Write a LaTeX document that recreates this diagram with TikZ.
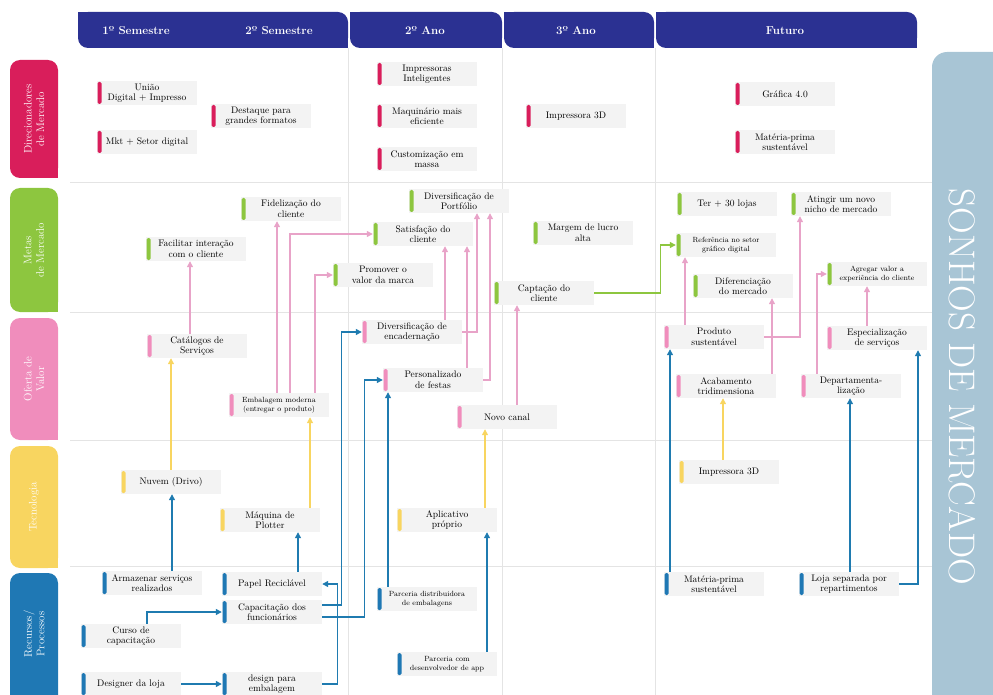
\documentclass[tikz,border=0pt]{standalone}
\usepackage{fontspec}
\usetikzlibrary{arrows.meta}

\definecolor{navyband}{HTML}{2B3192}
\definecolor{drvred}{HTML}{D91E5B}
\definecolor{metgreen}{HTML}{8DC63F}
\definecolor{ofpink}{HTML}{F08DBC}
\definecolor{tecyellow}{HTML}{F8D560}
\definecolor{recblue}{HTML}{1F78B4}
\definecolor{dreampanel}{HTML}{A8C5D5}
\definecolor{cardgray}{HTML}{F3F3F3}
\definecolor{gridgray}{HTML}{E4E4E4}
\definecolor{pinkln}{HTML}{E8A3C8}
\definecolor{blueln}{HTML}{1F7BB0}

\begin{document}
\begin{tikzpicture}[x=1pt, y=-1pt,
  card/.style={fill=cardgray, minimum width=100pt, minimum height=24pt,
    inner sep=1pt, align=center, font=\fontsize{9.5}{10.5}\selectfont,
    path picture={\fill[#1, rounded corners=1.5pt]
      ([xshift=0.5pt, yshift=-1pt]path picture bounding box.north west) rectangle
      ([xshift=4.5pt, yshift=1pt]path picture bounding box.south west);}},
  smallcard/.style={card=#1, font=\fontsize{7.5}{9}\selectfont},
  tablabel/.style={rotate=90, text=white, align=center, font=\fontsize{11}{12.5}\selectfont},
  headlabel/.style={text=white, font=\fontsize{11.5}{13}\selectfont\bfseries},
  gridline/.style={draw=gridgray, line width=0.8pt},
  wire/.style={line width=1.3pt, -{Triangle[length=6pt, width=6pt]}},
  pinkarrow/.style={wire, draw=pinkln},
  greenarrow/.style={wire, draw=metgreen},
  yellowarrow/.style={wire, draw=tecyellow},
  bluearrow/.style={wire, draw=blueln}]

  \useasboundingbox (0,0) rectangle (993,695);
  \clip (0,0) rectangle (993,695);

  % ---- grid ----
  \foreach \x in {348, 502, 655} {
    \draw[gridline] (\x,48) -- (\x,695);
  }
  \foreach \y in {182, 312, 440, 566} {
    \draw[gridline] (70,\y) -- (932,\y);
  }

  % ---- header tabs ----
  \foreach \xa/\xb in {78/348, 350/502, 504/654, 656/917} {
    \fill[navyband, rounded corners=10pt] (\xa,12) rectangle (\xb,48);
    \fill[navyband] (\xa,12) rectangle (\xa+12,24);
    \fill[navyband] (\xb-12,36) rectangle (\xb,48);
  }
  \node[headlabel] (h1) at (136,31) {1º Semestre};
  \node[headlabel] (h2) at (279,31) {2º Semestre};
  \node[headlabel] (h3) at (425,31) {2º Ano};
  \node[headlabel] (h4) at (576,31) {3º Ano};
  \node[headlabel] (h5) at (785,31) {Futuro};

  % ---- row tabs ----
  \foreach \ya/\yb/\col in {60/178/drvred, 188/312/metgreen, 318/440/ofpink,
                            446/568/tecyellow, 573/710/recblue} {
    \fill[\col, rounded corners=10pt] (10,\ya) rectangle (58,\yb);
    \fill[\col] (46,\yb-12) rectangle (58,\yb);
  }
  \node[tablabel] (l1) at (34,119) {Direcionadores\\de Mercado};
  \node[tablabel] (l2) at (34,250) {Metas\\de Mercado};
  \node[tablabel] (l3) at (34,379) {Oferta de\\Valor};
  \node[tablabel] (l4) at (34,507) {Tecnologia};
  \node[tablabel] (l5) at (34,634) {Recursos/\\Processos};

  % ---- right panel ----
  \fill[dreampanel, rounded corners=15pt] (932,52) rectangle (1010,710);
  \node[rotate=-90, text=white, font=\fontsize{37}{42}\selectfont] (dream) at (962,387) {SONHOS DE MERCADO};

  % ---- direcionadores de mercado ----
  \node[card=drvred] (uniao) at (147,93) {União\\Digital + Impresso};
  \node[card=drvred] (destaque) at (261,116) {Destaque para\\grandes formatos};
  \node[card=drvred] (mkt) at (147,142) {Mkt + Setor digital};
  \node[card=drvred] (impint) at (427,74) {Impressoras\\Inteligentes};
  \node[card=drvred] (maquin) at (427,116) {Maquinário mais\\eficiente};
  \node[card=drvred] (custom) at (427,159) {Customização em\\massa};
  \node[card=drvred] (imp3d) at (576,116) {Impressora 3D};
  \node[card=drvred] (grafica) at (785,94) {Gráfica 4.0};
  \node[card=drvred] (materia) at (785,142) {Matéria-prima\\sustentável};

  % ---- metas de mercado ----
  \node[card=metgreen] (fideliz) at (291,209) {Fidelização do\\cliente};
  \node[card=metgreen] (facilitar) at (196,249) {Facilitar interação\\com o cliente};
  \node[card=metgreen] (promover) at (383,275) {Promover o\\valor da marca};
  \node[card=metgreen] (divport) at (459,201) {Diversificação de\\Portfólio};
  \node[card=metgreen] (satisf) at (423,234) {Satisfação do\\cliente};
  \node[card=metgreen] (margem) at (583,233) {Margem de lucro\\alta};
  \node[card=metgreen] (captacao) at (544,293) {Captação do\\cliente};
  \node[card=metgreen] (lojas) at (727,204) {Ter + 30 lojas};
  \node[card=metgreen] (nicho) at (841,204) {Atingir um novo\\nicho de mercado};
  \node[smallcard=metgreen] (referencia) at (726,245) {Referência no setor\\gráfico digital};
  \node[card=metgreen] (diferenc) at (743,286) {Diferenciação\\do mercado};
  \node[smallcard=metgreen] (agregar) at (877,274) {Agregar valor a\\experiência do cliente};

  % ---- oferta de valor ----
  \node[card=ofpink] (catalogos) at (197,346) {Catálogos de\\Serviços};
  \node[smallcard=ofpink] (embalagem) at (279,405) {Embalagem moderna\\(entregar o produto)};
  \node[card=ofpink] (divenc) at (412,332) {Diversificação de\\encadernação};
  \node[card=ofpink] (festas) at (433,380) {Personalizado\\de festas};
  \node[card=ofpink] (canal) at (507,417) {Novo canal};
  \node[card=ofpink] (produto) at (714,337) {Produto\\sustentável};
  \node[card=ofpink] (especial) at (877,338) {Especialização\\de serviços};
  \node[card=ofpink] (acabamento) at (726,386) {Acabamento\\tridimensiona};
  \node[card=ofpink] (departam) at (851,386) {Departamenta-\\lização};

  % ---- tecnologia ----
  \node[card=tecyellow] (nuvem) at (171,482) {Nuvem (Drivo)};
  \node[card=tecyellow] (plotter) at (270,520) {Máquina de\\Plotter};
  \node[card=tecyellow] (aplicativo) at (447,520) {Aplicativo\\próprio};
  \node[card=tecyellow] (imp3dtec) at (729,472) {Impressora 3D};

  % ---- recursos / processos ----
  \node[card=recblue] (armazenar) at (152,583) {Armazenar serviços\\realizados};
  \node[card=recblue] (papel) at (272,584) {Papel Reciclável};
  \node[card=recblue] (capacit) at (272,612) {Capacitação dos\\funcionários};
  \node[card=recblue] (curso) at (131,636) {Curso de\\capacitação};
  \node[card=recblue] (designer) at (131,684) {Designer da loja};
  \node[card=recblue] (designemb) at (272,684) {design para\\embalagem};
  \node[smallcard=recblue] (distrib) at (427,599) {Parceria distribuidora\\de embalagens};
  \node[smallcard=recblue] (devapp) at (447,664) {Parceria com\\desenvolvedor de app};
  \node[card=recblue] (materiarec) at (714,584) {Matéria-prima\\sustentável};
  \node[card=recblue] (lojasep) at (849,584) {Loja separada por\\repartimentos};

  % ---- oferta -> metas (pink) ----
  \draw[pinkarrow] ([xshift=-7pt]catalogos.north) -- ([xshift=-7pt]catalogos.north |- facilitar.south);
  \draw[pinkarrow] ([xshift=-2pt]embalagem.north) -- ([xshift=-2pt]embalagem.north |- fideliz.south);
  \draw[pinkarrow] ([xshift=11pt]embalagem.north) |- (satisf.west);
  \draw[pinkarrow] ([xshift=36pt]embalagem.north) |- (promover.west);
  \draw[pinkarrow] ([xshift=33pt]divenc.north) -- ([xshift=33pt]divenc.north |- satisf.south);
  \draw[pinkarrow] ([xshift=34pt]festas.north) -- ([xshift=34pt]festas.north |- satisf.south);
  \draw[pinkarrow] (divenc.east) -| ([xshift=18pt]divport.south);
  \draw[pinkarrow] (festas.east) -| ([xshift=31pt]divport.south);
  \draw[pinkarrow] ([xshift=10pt]canal.north) -- ([xshift=10pt]canal.north |- captacao.south);
  \draw[pinkarrow] ([xshift=-29pt]produto.north) -- ([xshift=-29pt]produto.north |- referencia.south);
  \draw[pinkarrow] (produto.east) -| ([xshift=-41pt]nicho.south);
  \draw[pinkarrow] ([xshift=46pt]acabamento.north) -- ([xshift=46pt]acabamento.north |- diferenc.south);
  \draw[pinkarrow] ([xshift=-34pt]departam.north) |- (agregar.west);
  \draw[pinkarrow] ([xshift=-10pt]especial.north) -- ([xshift=-10pt]especial.north |- agregar.south);

  % ---- metas -> metas (green) ----
  \draw[greenarrow] (captacao.east) -- ([xshift=-15pt]referencia.west |- captacao.east) |- (referencia.west);

  % ---- tecnologia -> oferta (yellow) ----
  \draw[yellowarrow] (nuvem.north) -- (nuvem.north |- catalogos.south);
  \draw[yellowarrow] ([xshift=40pt]plotter.north) -- ([xshift=40pt]plotter.north |- embalagem.south);
  \draw[yellowarrow] ([xshift=38pt]aplicativo.north) -- ([xshift=38pt]aplicativo.north |- canal.south);
  \draw[yellowarrow] ([xshift=-6pt]imp3dtec.north) -- ([xshift=-6pt]imp3dtec.north |- acabamento.south);

  % ---- recursos -> tecnologia / oferta (blue) ----
  \draw[bluearrow] ([xshift=20pt]armazenar.north) -- ([xshift=20pt]armazenar.north |- nuvem.south);
  \draw[bluearrow] ([xshift=26pt]papel.north) -- ([xshift=26pt]papel.north |- plotter.south);
  \draw[bluearrow] ([xshift=16pt]curso.north) |- (capacit.west);
  \draw[bluearrow] (designer.east) -- (designemb.west);
  \draw[bluearrow] (designemb.east) -| ([xshift=15pt]papel.east) -- (papel.east);
  \draw[bluearrow] ([yshift=7pt]capacit.east) -| ([xshift=-20pt]divenc.west) -- (divenc.west);
  \draw[bluearrow] ([yshift=-5pt]capacit.east) -| ([xshift=-18pt]festas.west) -- (festas.west);
  \draw[bluearrow] ([xshift=-39pt]distrib.north) -- ([xshift=-39pt]distrib.north |- festas.south);
  \draw[bluearrow] ([xshift=40pt]devapp.north) -- ([xshift=40pt]devapp.north |- aplicativo.south);
  \draw[bluearrow] ([xshift=-44pt]materiarec.north) -- ([xshift=-44pt]materiarec.north |- produto.south);
  \draw[bluearrow] ([xshift=1pt]lojasep.north) -- ([xshift=1pt]lojasep.north |- departam.south);
  \draw[bluearrow] (lojasep.east) -| ([xshift=41pt]especial.south);

\end{tikzpicture}
\end{document}
